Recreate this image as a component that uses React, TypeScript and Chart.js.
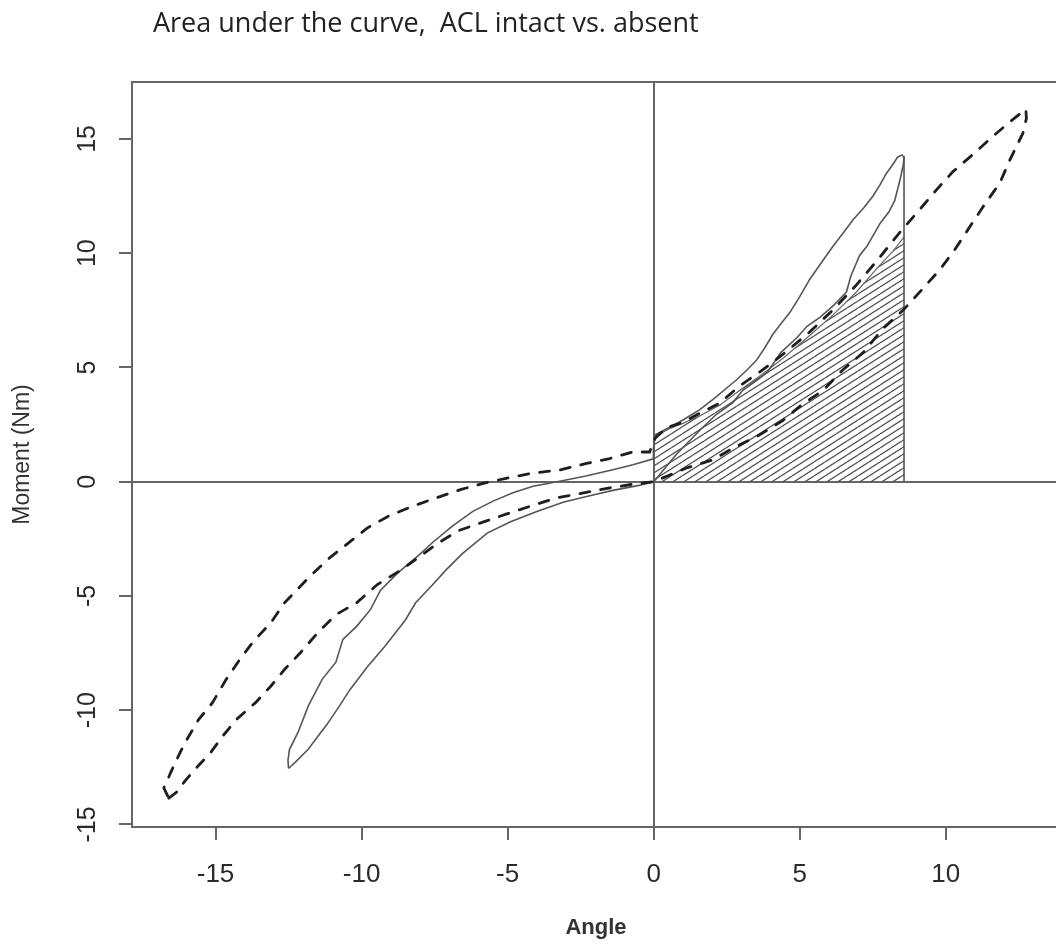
import React, { useEffect, useRef } from "react";
import { Chart, registerables } from "chart.js";

Chart.register(...registerables);

const TITLE = "Area under the curve,  ACL intact vs. absent";
const X_TITLE = "Angle";
const Y_TITLE = "Moment (Nm)";

const xTicks = [-15, -10, -5, 0, 5, 10];
const yTicks = [-15, -10, -5, 0, 5, 10, 15];

// ACL intact loop (solid), traced as one closed path
const intactAngle = [
  -12.5, -12.25, -11.82, -11.5, -11.2, -10.75, -10.4, -9.8, -9.2, -8.5, -8.15, -7.6, -7.1, -6.55, -5.7, -4.9, -4.0, -3.1, -2.3, -1.4, -0.5, 0,
  0.2, 0.78, 1.58, 2.15, 2.7, 3.05, 3.6, 3.9, 4.35, 4.9, 5.25, 5.7, 6.15, 6.6, 6.75, 7.05, 7.3, 7.75, 8.05, 8.25, 8.45, 8.55, 8.57,
  8.5, 8.35, 8.2, 7.97, 7.75, 7.51, 7.2, 6.82, 6.5, 6.14, 5.75, 5.34, 5.0, 4.66, 4.35, 4.08, 3.8, 3.51, 3.2, 2.83, 2.5, 2.15, 1.58, 1.0, 0.5, 0.05, 0, 0,
  -0.02, -0.71, -1.4, -2.32, -3.22, -4.13, -4.82, -5.5, -6.19, -6.87, -7.56, -8.01, -8.76, -9.35, -9.7, -10.17, -10.64, -10.88, -11.35, -11.82, -12.17, -12.47, -12.52, -12.5,
];
const intactMoment = [
  -12.55, -12.25, -11.7, -11.15, -10.65, -9.8, -9.1, -8.1, -7.2, -6.05, -5.3, -4.55, -3.85, -3.15, -2.25, -1.75, -1.3, -0.9, -0.65, -0.38, -0.16, 0,
  0.3, 1.2, 2.25, 2.95, 3.45, 4.0, 4.5, 4.8, 5.65, 6.3, 6.8, 7.2, 7.7, 8.3, 9.0, 9.9, 10.3, 11.3, 11.8, 12.3, 13.3, 13.9, 14.2,
  14.3, 14.2, 13.9, 13.5, 13.0, 12.5, 12.0, 11.45, 10.9, 10.3, 9.6, 8.85, 8.1, 7.4, 6.9, 6.45, 5.85, 5.3, 4.9, 4.45, 4.1, 3.72, 3.15, 2.7, 2.35, 2.05, 1.5, 1.0,
  1.0, 0.74, 0.52, 0.25, 0.02, -0.2, -0.48, -0.85, -1.3, -1.92, -2.65, -3.18, -3.99, -4.75, -5.6, -6.33, -6.9, -7.9, -8.65, -9.8, -10.95, -11.72, -12.2, -12.55,
];

// ACL absent loop (dashed)
const absentAngle = [
  -16.6, -16.3, -16.05, -15.64, -15.17, -14.76, -14.29, -13.64, -13.11, -12.64, -12.05, -11.46, -10.88, -10.17, -9.46, -8.63, -7.92, -7.4, -6.7, -5.85, -5.0, -4.14, -3.33, -2.4, -1.5, -0.66, 0,
  0.43, 1.12, 2.03, 2.72, 3.63, 4.43, 5.0, 5.8, 6.48, 7.17, 7.85, 8.55, 9.18, 9.79, 10.3, 10.82, 11.27, 11.85, 12.19, 12.64, 12.76, 12.74,
  12.2, 11.6, 11.0, 10.24, 9.68, 9.1, 8.42, 7.63, 6.9, 6.14, 5.34, 4.45, 3.74, 2.95, 2.26, 1.58, 1.0, 0.44, 0.05, -0.14,
  -0.71, -1.51, -2.3, -3.22, -4.13, -5.05, -5.8, -6.62, -7.45, -8.27, -9.1, -9.81, -10.52, -11.17, -11.82, -12.64, -13.11, -13.7, -14.17, -14.64, -15.11, -15.58, -16.05, -16.41, -16.77, -16.6,
];
const absentMoment = [
  -13.85, -13.55, -13.1, -12.5, -11.86, -11.14, -10.41, -9.68, -8.95, -8.22, -7.42, -6.55, -5.82, -5.3, -4.5, -3.85, -3.19, -2.7, -2.15, -1.77, -1.4, -1.04, -0.71, -0.49, -0.27, -0.1, 0,
  0.23, 0.6, 0.96, 1.47, 2.05, 2.68, 3.3, 4.0, 4.9, 5.65, 6.7, 7.52, 8.4, 9.27, 10.14, 11.15, 12.02, 13.07, 14.07, 15.25, 15.9, 16.3,
  15.75, 15.1, 14.4, 13.56, 12.77, 11.9, 10.9, 9.65, 8.55, 7.52, 6.55, 5.6, 4.9, 4.2, 3.44, 3.0, 2.6, 2.36, 1.9, 1.3,
  1.3, 1.01, 0.8, 0.51, 0.38, 0.15, -0.06, -0.35, -0.71, -1.08, -1.52, -2.03, -2.75, -3.41, -4.21, -5.3, -6.18, -6.98, -7.78, -8.66, -9.68, -10.41, -11.43, -12.37, -13.4, -13.85,
];

// Hatched area: upper boundary of the area under the curve
const areaAngle = [0, 0.5, 1.0, 1.6, 2.26, 2.95, 3.74, 4.43, 5.34, 6.14, 6.94, 7.62, 8.2, 8.57];
const areaMoment = [2.0, 2.3, 2.55, 2.9, 3.35, 4.0, 4.72, 5.4, 6.4, 7.3, 8.3, 9.3, 10.1, 10.7];

// Right edge of the area
const edgeAngle = [8.57, 8.57];
const edgeMoment = [0, 14.25];

const X_MIN = -17.86;
const X_MAX = 13.91;
const Y_MIN = -15.11;
const Y_MAX = 17.49;

const toPoints = (xs: number[], ys: number[]) => xs.map((x, i) => ({ x, y: ys[i] }));

function makeHatch(): CanvasPattern | string {
  const w = 11;
  const h = 7;
  const c = document.createElement("canvas");
  c.width = w;
  c.height = h;
  const g = c.getContext("2d");
  if (!g) return "rgba(0,0,0,0)";
  g.strokeStyle = "#505050";
  g.lineWidth = 1.3;
  for (const k of [-1, 0, 1]) {
    g.beginPath();
    g.moveTo(0, h + k * h);
    g.lineTo(w, k * h);
    g.stroke();
  }
  return g.createPattern(c, "repeat") || "rgba(0,0,0,0)";
}

const framePlugin = {
  id: "frame",
  afterDatasetsDraw(chart: any) {
    const { ctx, chartArea } = chart;
    const { left, top, right, bottom } = chartArea;
    ctx.save();
    ctx.strokeStyle = "#666";
    ctx.lineWidth = 2;
    ctx.strokeRect(left, top, right - left, bottom - top);
    ctx.restore();
  },
};

const titleShiftPlugin = {
  id: "titleShift",
  afterLayout(chart: any) {
    if (chart.titleBlock) chart.titleBlock.left = 153;
  },
};

const axisFont = "'Liberation Sans', Arial, sans-serif";

export default function App() {
  const ref = useRef<HTMLCanvasElement>(null);

  useEffect(() => {
    if (!ref.current) return;
    const zeroColor = (c: any) => (c.tick && c.tick.value === 0 ? "#666" : "rgba(0,0,0,0)");
    const chart = new Chart(ref.current, {
      type: "scatter",
      data: {
        datasets: [
          {
            label: "ACL absent",
            data: toPoints(absentAngle, absentMoment),
            showLine: true,
            borderColor: "#1e1e1e",
            borderWidth: 2.8,
            borderDash: [10, 11],
            borderCapStyle: "round",
            pointRadius: 0,
            tension: 0,
            fill: false,
          },
          {
            label: "ACL intact",
            data: toPoints(intactAngle, intactMoment),
            showLine: true,
            borderColor: "#555",
            borderWidth: 1.6,
            pointRadius: 0,
            tension: 0,
            fill: false,
          },
          {
            label: "Area edge",
            data: toPoints(edgeAngle, edgeMoment),
            showLine: true,
            borderColor: "#555",
            borderWidth: 1.6,
            pointRadius: 0,
            fill: false,
          },
          {
            label: "Area under the curve",
            data: toPoints(areaAngle, areaMoment),
            showLine: true,
            borderColor: "#666",
            borderWidth: 1.2,
            pointRadius: 0,
            tension: 0,
            fill: "origin",
            backgroundColor: makeHatch() as any,
          },
        ],
      },
      options: {
        animation: false,
        responsive: false,
        maintainAspectRatio: false,
        layout: { padding: { left: 0, right: 4, top: 0, bottom: 0 } },
        plugins: {
          legend: { display: false },
          tooltip: { enabled: false },
          title: {
            display: true,
            text: TITLE,
            align: "start",
            color: "#222",
            font: { family: "'Open Sans', Lato, sans-serif", size: 27, weight: "normal", lineHeight: 1.2 },
            padding: { top: 8, bottom: 41.6 },
          },
        },
        scales: {
          x: {
            type: "linear",
            min: X_MIN,
            max: X_MAX,
            afterBuildTicks: (s: any) => {
              s.ticks = xTicks.map((v) => ({ value: v }));
            },
            afterFit: (s: any) => {
              s.height = 117;
            },
            border: { display: false },
            grid: {
              color: zeroColor,
              lineWidth: 2,
              tickColor: "#666",
              tickWidth: 2,
              tickLength: 13,
            },
            ticks: {
              color: "#2a2a2a",
              font: { family: axisFont, size: 26 },
              padding: 19,
              maxRotation: 0,
              minRotation: 0,
              autoSkip: false,
            },
            title: {
              display: true,
              text: X_TITLE,
              color: "#333",
              font: { family: axisFont, size: 22, weight: "bold", lineHeight: 1.2 },
              padding: { top: 0, bottom: 3 },
            },
          },
          y: {
            type: "linear",
            min: Y_MIN,
            max: Y_MAX,
            afterBuildTicks: (s: any) => {
              s.ticks = yTicks.map((v) => ({ value: v }));
            },
            afterFit: (s: any) => {
              s.width = 132;
            },
            border: { display: false },
            grid: {
              color: zeroColor,
              lineWidth: 2,
              tickColor: "#666",
              tickWidth: 2,
              tickLength: 13,
            },
            ticks: {
              color: "#2a2a2a",
              font: { family: axisFont, size: 25 },
              padding: 13,
              minRotation: 90,
              maxRotation: 90,
              crossAlign: "center",
              autoSkip: false,
            },
            title: {
              display: true,
              text: Y_TITLE,
              color: "#333",
              font: { family: axisFont, size: 23, lineHeight: 1.2 },
              padding: { top: 9, bottom: 0 },
            },
          },
        },
      },
      plugins: [framePlugin, titleShiftPlugin],
    } as any);
    return () => chart.destroy();
  }, []);

  return (
    <div
      style={{
        position: "absolute",
        left: 0,
        top: 0,
        width: 1056,
        height: 944,
        overflow: "hidden",
        background: "#fff",
      }}
    >
      <canvas ref={ref} width={1064} height={944} style={{ display: "block", width: 1064, height: 944 }} />
    </div>
  );
}
